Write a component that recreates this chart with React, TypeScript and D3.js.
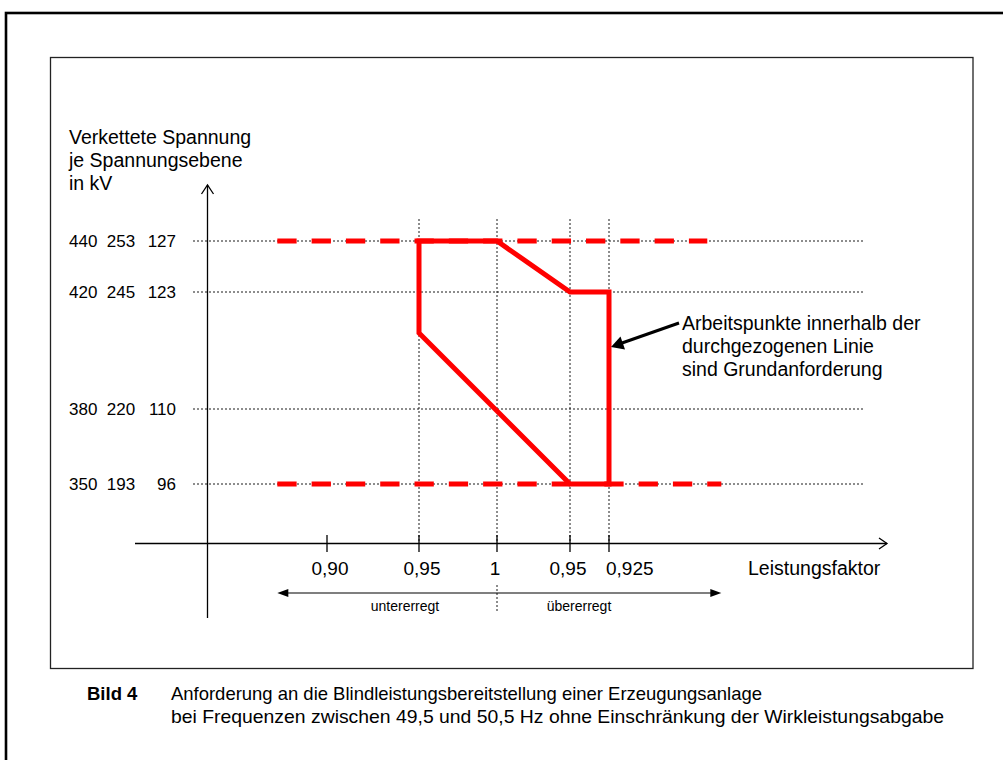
import React from "react";
import * as d3 from "d3";

// ---- Data ----
// x: signed deviation of the power factor from 1 (negative = untererregt, positive = übererregt)
const xTickValues = [-0.1, -0.05, 0, 0.05, 0.075];
const xTickLabels = ["0,90", "0,95", "1", "0,95", "0,925"];
const xGuideValues = [-0.05, 0, 0.05, 0.075];

// y: voltage levels (380-kV column used as reference scale)
const yLevels = [440, 420, 380, 350];
const yLabels380 = ["440", "420", "380", "350"];
const yLabels220 = ["253", "245", "220", "193"];
const yLabels110 = ["127", "123", "110", "96"];

// solid boundary of the basic requirement (x, kV)
const boundaryX = [-0.05, 0, 0.05, 0.075, 0.075, 0.05, -0.05];
const boundaryY = [440, 440, 420, 420, 350, 350, 406];

// dashed limit line segments (kV level, x start, x end)
const limitLevels = [440, 350, 350];
const limitStart = [-0.127, -0.127, 0.072];
const limitEnd = [0.138, 0.05, 0.147];

const titleLines = ["Verkettete Spannung", "je Spannungsebene", "in kV"];
const noteLines = ["Arbeitspunkte innerhalb der", "durchgezogenen Linie", "sind Grundanforderung"];
const captionLines = [
  "Anforderung an die Blindleistungsbereitstellung einer Erzeugungsanlage",
  "bei Frequenzen zwischen 49,5 und 50,5 Hz ohne Einschränkung der Wirkleistungsabgabe",
];
const captionWidths = [591, 773];

const FONT = "'Liberation Sans', Arial, Helvetica, sans-serif";
const RED = "#ff0000";

export default function App() {
  const x = d3
    .scaleLinear()
    .domain(xTickValues)
    .range([327, 419, 497, 570, 609]);
  const y = d3
    .scaleLinear()
    .domain([350, 380, 420, 440])
    .range([484, 409, 292, 241]);

  const axisY = 543.5;
  const axisX = 207.5;

  const line = d3
    .line<number>()
    .x((_, i) => x(boundaryX[i]))
    .y((d) => y(d))
    .curve(d3.curveLinearClosed);
  const boundaryPath = line(boundaryY) || "";

  const leftArrowX = x(limitStart[0]);
  const rightArrowX = x(limitEnd[2]);
  const divX = x(0);

  return (
    <svg
      width={1003}
      height={760}
      style={{ position: "absolute", left: 0, top: 0, display: "block", background: "#fff" }}
      fontFamily={FONT}
    >
      {/* outer frame */}
      <rect x={6} y={13} width={1100} height={900} fill="none" stroke="#000" strokeWidth={2.6} />
      {/* inner box */}
      <rect x={50.5} y={57.5} width={922.5} height={611} fill="#fff" stroke="#222" strokeWidth={1.3} />

      {/* horizontal dotted gridlines */}
      {yLevels.map((v) => (
        <line
          key={"h" + v}
          x1={193}
          x2={863}
          y1={y(v)}
          y2={y(v)}
          stroke="#000"
          strokeWidth={0.9}
          strokeDasharray="2,2"
        />
      ))}
      {/* vertical dotted guides */}
      {xGuideValues.map((v) => (
        <line
          key={"v" + v}
          x1={x(v)}
          x2={x(v)}
          y1={219}
          y2={axisY}
          stroke="#000"
          strokeWidth={0.9}
          strokeDasharray="2,2"
        />
      ))}

      {/* axes */}
      <line x1={135} x2={887} y1={axisY} y2={axisY} stroke="#000" strokeWidth={1.3} />
      <polyline
        points={`879,538 887,${axisY} 879,549`}
        fill="none"
        stroke="#000"
        strokeWidth={1.3}
      />
      <line x1={axisX} x2={axisX} y1={618} y2={185} stroke="#000" strokeWidth={1.3} />
      <polyline
        points={`201.5,194 ${axisX},185 213.5,194`}
        fill="none"
        stroke="#000"
        strokeWidth={1.3}
      />
      {xTickValues.map((v) => (
        <line key={"t" + v} x1={x(v)} x2={x(v)} y1={535} y2={552} stroke="#000" strokeWidth={1.3} />
      ))}

      {/* dashed limit lines */}
      {limitLevels.map((lv, i) => (
        <line
          key={"lim" + i}
          x1={x(limitStart[i])}
          x2={x(limitEnd[i])}
          y1={y(lv)}
          y2={y(lv)}
          stroke={RED}
          strokeWidth={5}
          strokeDasharray="19.3,15"
        />
      ))}

      {/* solid boundary */}
      <path d={boundaryPath} fill="none" stroke={RED} strokeWidth={5} strokeLinejoin="miter" />

      {/* annotation arrow */}
      <line x1={679} y1={323} x2={622} y2={343} stroke="#000" strokeWidth={3} />
      <polygon points="611,347 620.5,336.5 625,349.5" fill="#000" />

      {/* y labels */}
      <g fontSize={17} fill="#000">
        {yLevels.map((v, i) => (
          <g key={"yl" + v}>
            <text x={69} y={y(v) + 6}>{yLabels380[i]}</text>
            <text x={121} y={y(v) + 6} textAnchor="middle">{yLabels220[i]}</text>
            <text x={176} y={y(v) + 6} textAnchor="end">{yLabels110[i]}</text>
          </g>
        ))}
      </g>

      {/* axis title */}
      <g fontSize={19.5} fill="#000">
        {titleLines.map((t, i) => (
          <text key={t} x={69} y={144 + i * 23}>{t}</text>
        ))}
      </g>

      {/* x tick labels */}
      <g fontSize={19} fill="#000">
        {xTickValues.map((v, i) =>
          i === xTickValues.length - 1 ? (
            <text key={"xl" + i} x={x(v) - 3} y={575}>{xTickLabels[i]}</text>
          ) : (
            <text key={"xl" + i} x={x(v) + (i === 0 || i === 1 ? 3 : -2)} y={575} textAnchor="middle">
              {xTickLabels[i]}
            </text>
          )
        )}
        <text x={748} y={575} fontSize={19.5}>Leistungsfaktor</text>
      </g>

      {/* excitation arrows */}
      <line x1={divX} x2={leftArrowX + 9} y1={593} y2={593} stroke="#000" strokeWidth={1.2} />
      <polygon points={`${leftArrowX},593 ${leftArrowX + 11},589 ${leftArrowX + 11},597`} fill="#000" />
      <line x1={divX} x2={rightArrowX - 9} y1={593} y2={593} stroke="#000" strokeWidth={1.2} />
      <polygon points={`${rightArrowX},593 ${rightArrowX - 11},589 ${rightArrowX - 11},597`} fill="#000" />
      <line x1={divX} x2={divX} y1={585} y2={611} stroke="#000" strokeWidth={0.9} strokeDasharray="2,2" />
      <text x={405} y={611} fontSize={14} textAnchor="middle">untererregt</text>
      <text x={579} y={611} fontSize={14} textAnchor="middle">übererregt</text>

      {/* annotation text */}
      <g fontSize={19.5} fill="#000">
        {noteLines.map((t, i) => (
          <text key={t} x={682} y={330 + i * 23}>{t}</text>
        ))}
      </g>

      {/* caption */}
      <text x={87} y={700} fontSize={18.5} fontWeight="bold">Bild 4</text>
      <g fontSize={18.5}>
        {captionLines.map((t, i) => (
          <text
            key={i}
            x={171}
            y={700 + i * 23}
            textLength={captionWidths[i]}
            lengthAdjust="spacingAndGlyphs"
          >
            {t}
          </text>
        ))}
      </g>
    </svg>
  );
}
